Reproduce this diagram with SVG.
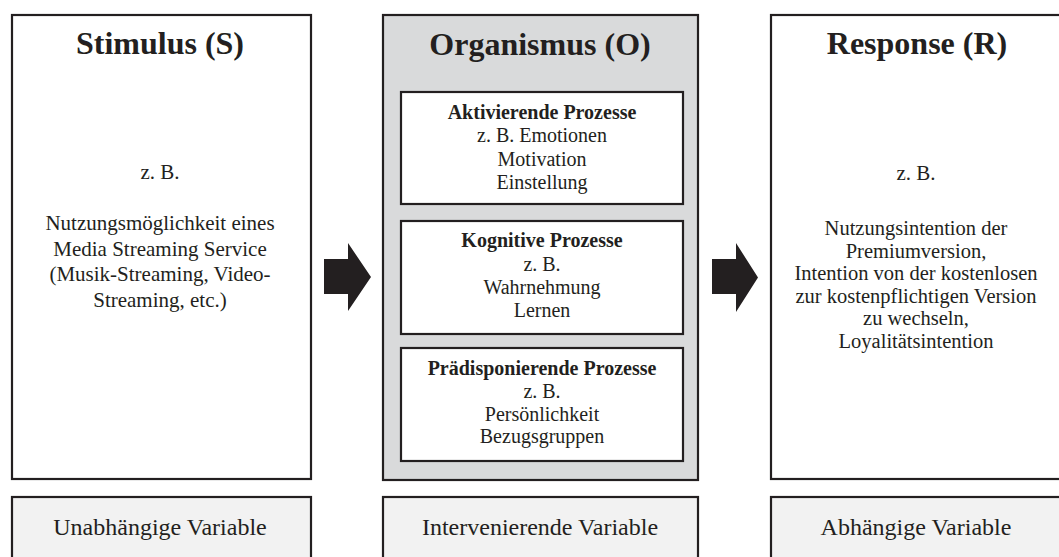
<svg xmlns="http://www.w3.org/2000/svg" width="1059" height="557" viewBox="0 0 1059 557">
  <style>
    text { fill: #231f20; text-anchor: middle; }
    .box { fill: #ffffff; stroke: #231f20; stroke-width: 2.2; }
    .outer { fill: #d9dadb; stroke: #231f20; stroke-width: 2.2; }
    .var { fill: #f2f2f2; stroke: #231f20; stroke-width: 2.2; }
    .title { font-size: 32px; font-weight: bold; }
    .body { font-size: 21px; }
    .resp { font-size: 20.5px; }
    .sub { font-size: 20px; }
    .subhead { font-size: 20px; font-weight: bold; }
    .varlabel { font-size: 24px; }
    .arrow { fill: #231f20; }
  </style>

  <g font-family="Liberation Serif, Times New Roman, Times, DejaVu Serif, serif">
  <!-- Stimulus -->
  <g id="stimulus">
    <rect class="box" x="12" y="15" width="299" height="464"/>
    <text class="title" x="160" y="54">Stimulus (S)</text>
    <text class="body" x="160" y="179">z. B.</text>
    <text class="body" x="160" y="230">Nutzungsmöglichkeit eines</text>
    <text class="body" x="160" y="256">Media Streaming Service</text>
    <text class="body" x="160" y="281">(Musik-Streaming, Video-</text>
    <text class="body" x="160" y="307">Streaming, etc.)</text>
  </g>

  <!-- Organismus -->
  <g id="organismus">
    <rect class="outer" x="383" y="15" width="315" height="465"/>
    <text class="title" x="540" y="55">Organismus (O)</text>
  </g>

  <g id="aktivierende-prozesse">
    <rect class="box" x="401" y="92" width="282" height="112"/>
    <text class="subhead" x="542" y="119">Aktivierende Prozesse</text>
    <text class="sub" x="542" y="142">z. B. Emotionen</text>
    <text class="sub" x="542" y="166">Motivation</text>
    <text class="sub" x="542" y="189">Einstellung</text>
  </g>

  <g id="kognitive-prozesse">
    <rect class="box" x="401" y="221" width="282" height="113"/>
    <text class="subhead" x="542" y="247">Kognitive Prozesse</text>
    <text class="sub" x="542" y="271">z. B.</text>
    <text class="sub" x="542" y="294">Wahrnehmung</text>
    <text class="sub" x="542" y="317">Lernen</text>
  </g>

  <g id="praedisponierende-prozesse">
    <rect class="box" x="401" y="348" width="282" height="113"/>
    <text class="subhead" x="542" y="375">Prädisponierende Prozesse</text>
    <text class="sub" x="542" y="398">z. B.</text>
    <text class="sub" x="542" y="421">Persönlichkeit</text>
    <text class="sub" x="542" y="443">Bezugsgruppen</text>
  </g>

  <!-- Response -->
  <g id="response">
    <rect class="box" x="771" y="15" width="292" height="464"/>
    <text class="title" x="917" y="54">Response (R)</text>
    <text class="body" x="916" y="180">z. B.</text>
    <text class="resp" x="916" y="235">Nutzungsintention der</text>
    <text class="resp" x="916" y="257.5">Premiumversion,</text>
    <text class="resp" x="916" y="280">Intention von der kostenlosen</text>
    <text class="resp" x="916" y="302.5">zur kostenpflichtigen Version</text>
    <text class="resp" x="916" y="325">zu wechseln,</text>
    <text class="resp" x="916" y="347.5">Loyalitätsintention</text>
  </g>

  <!-- Variable labels -->
  <g id="unabhaengige-variable">
    <rect class="var" x="12" y="497" width="299" height="70"/>
    <text class="varlabel" x="160" y="535">Unabhängige Variable</text>
  </g>
  <g id="intervenierende-variable">
    <rect class="var" x="383" y="497" width="315" height="70"/>
    <text class="varlabel" x="540" y="535">Intervenierende Variable</text>
  </g>
  <g id="abhaengige-variable">
    <rect class="var" x="771" y="497" width="292" height="70"/>
    <text class="varlabel" x="916" y="535">Abhängige Variable</text>
  </g>
  </g>

  <!-- Block arrows between stages -->
  <g id="connectors">
    <polygon class="arrow" points="324,259 348,259 348,243 371,277 348,311 348,294 324,294"/>
    <polygon class="arrow" points="712,259 736,259 736,243 758,277.5 736,312 736,294 712,294"/>
  </g>
</svg>
